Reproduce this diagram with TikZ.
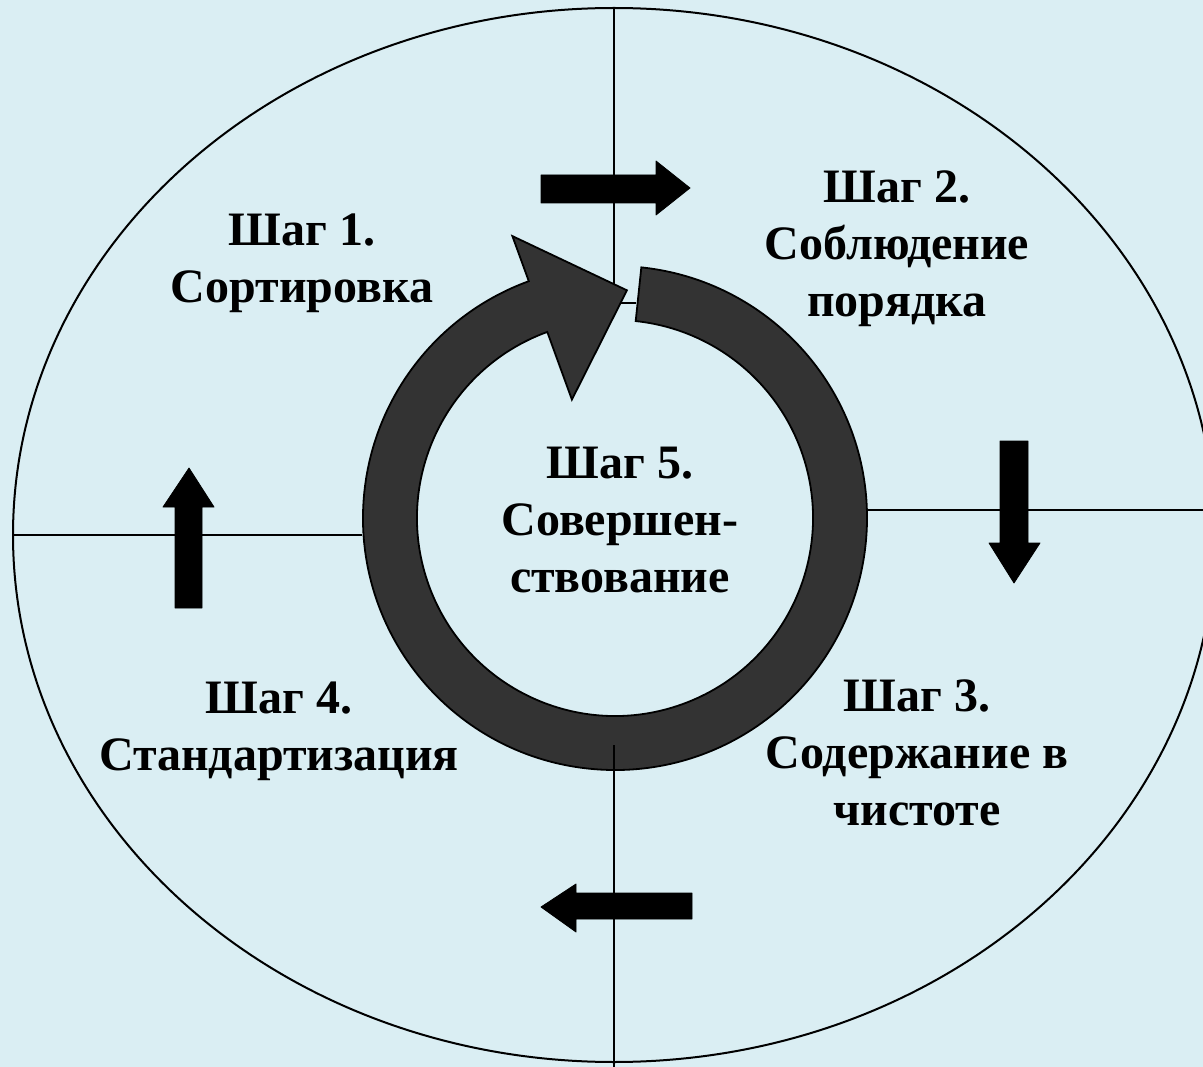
\documentclass[tikz,border=0pt]{standalone}
\usepackage{fontspec}
\setmainfont{Liberation Serif}
\usetikzlibrary{calc}

\definecolor{bgblue}{HTML}{DAEEF3}
\definecolor{ringgray}{HTML}{333333}

\begin{document}
\begin{tikzpicture}[x=1pt,y=-1pt,
  thinline/.style={line width=2pt},
  blockarrow/.style={fill=black,draw=black,line width=0.8pt,line join=round},
  steptext/.style={align=center,inner sep=0pt,anchor=base,
    font=\fontsize{48}{57}\selectfont\bfseries}]

% background
\useasboundingbox (0,0) rectangle (1203,1067);
\clip (0,0) rectangle (1203,1067);
\fill[bgblue] (0,0) rectangle (1203,1067);

% outer ellipse
\draw[thinline] (614,535) ellipse [x radius=601, y radius=527];

% dividing lines
\draw[thinline] (614,8) -- (614,303) -- (636,303);
\draw[thinline] (13,535) -- (362,535);
\draw[thinline] (867,510) -- (1203,510);

% ring with arrow head
\coordinate (c) at (615,518);
\draw[fill=ringgray,line width=1.8pt,line join=miter]
  ($(c)+(-84:252)$) arc[start angle=-84, end angle=250, radius=252]
  -- ($(c)+(250:300)$) -- ($(c)+(-87:228)$) -- ($(c)+(250:126)$)
  -- ($(c)+(250:198)$) arc[start angle=250, end angle=-84, radius=198]
  -- cycle;

% lower dividing line
\draw[thinline] (614,745) -- (614,1067);

% block arrows
\draw[blockarrow] (541,175) -- (656,175) -- (656,161) -- (690,188)
  -- (656,215) -- (656,203) -- (541,203) -- cycle;
\draw[blockarrow] (1000,441) -- (1028,441) -- (1028,543) -- (1040,543)
  -- (1014,583) -- (989,543) -- (1000,543) -- cycle;
\draw[blockarrow] (692,893) -- (576,893) -- (576,884) -- (541,907)
  -- (576,932) -- (576,919) -- (692,919) -- cycle;
\draw[blockarrow] (175,608) -- (175,507) -- (163,507) -- (189,468)
  -- (214,507) -- (202,507) -- (202,608) -- cycle;

% step labels (anchored at the last line)
\node[steptext] (sort) at (302,303) {Шаг 1.\\Сортировка};
\node[steptext] (order) at (897,317) {Шаг 2.\\Соблюдение\\порядка};
\node[steptext] (clean) at (917,825) {Шаг 3.\\Содержание в\\чистоте};
\node[steptext] (standard) at (279,770) {Шаг 4.\\Стандартизация};
\node[steptext] (improve) at (620,592) {Шаг 5.\\Совершен-\\ствование};

\end{tikzpicture}
\end{document}
